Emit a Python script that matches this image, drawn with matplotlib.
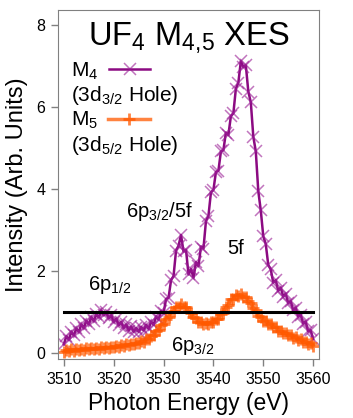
# coding: utf-8
import numpy as np
import matplotlib
matplotlib.use('Agg')
import matplotlib.pyplot as plt
from matplotlib.lines import Line2D

plt.rcParams['font.family'] = ['Liberation Sans', 'DejaVu Sans']
plt.rcParams['mathtext.fontset'] = 'custom'
plt.rcParams['mathtext.rm'] = 'Liberation Sans'
plt.rcParams['mathtext.it'] = 'Liberation Sans:italic'
plt.rcParams['mathtext.default'] = 'rm'

# data
energy = np.arange(3510.0, 3560.01, 0.5)

m4 = [0.22, 0.41, 0.33, 0.52, 0.43, 0.60, 0.52, 0.70, 0.61, 0.79,
      0.70, 0.88, 0.78, 0.95, 0.87, 1.04, 0.92, 1.00, 0.85, 0.92,
      0.76, 0.84, 0.68, 0.76, 0.61, 0.70, 0.55, 0.65, 0.52, 0.61,
      0.52, 0.64, 0.55, 0.69, 0.59, 0.77, 0.69, 0.89, 0.82, 1.03,
      0.98, 1.32, 1.35, 1.78, 1.88, 2.50, 2.62, 2.88, 2.48, 2.52,
      1.92, 2.05, 1.84, 2.22, 2.12, 2.60, 2.55, 3.22, 3.35, 3.92,
      3.98, 4.42, 4.45, 4.92, 4.95, 5.38, 5.32, 5.78, 5.85, 6.45,
      6.60, 7.12, 6.98, 7.02, 6.38, 6.12, 5.28, 4.92, 3.95, 3.48,
      2.85, 2.66, 2.15, 2.04, 1.72, 1.78, 1.52, 1.60, 1.38, 1.45,
      1.22, 1.27, 1.04, 1.11, 0.89, 0.94, 0.72, 0.77, 0.53, 0.56,
      0.34]

m5 = [0.03, 0.08, 0.05, 0.09, 0.06, 0.10, 0.07, 0.11, 0.08, 0.12,
      0.09, 0.12, 0.10, 0.13, 0.11, 0.14, 0.12, 0.15, 0.13, 0.16,
      0.14, 0.18, 0.16, 0.19, 0.17, 0.21, 0.19, 0.23, 0.21, 0.25,
      0.24, 0.29, 0.28, 0.34, 0.35, 0.42, 0.44, 0.53, 0.57, 0.68,
      0.72, 0.84, 0.88, 1.00, 1.03, 1.13, 1.13, 1.19, 1.13, 1.12,
      1.01, 0.98, 0.87, 0.85, 0.76, 0.77, 0.71, 0.74, 0.70, 0.76,
      0.75, 0.83, 0.84, 0.95, 0.99, 1.12, 1.18, 1.31, 1.33, 1.41,
      1.39, 1.43, 1.37, 1.37, 1.27, 1.23, 1.10, 1.04, 0.91, 0.88,
      0.79, 0.79, 0.71, 0.71, 0.63, 0.63, 0.55, 0.55, 0.48, 0.50,
      0.43, 0.45, 0.38, 0.40, 0.33, 0.34, 0.27, 0.28, 0.22, 0.24,
      0.18]

ref_level = 1.0
ref_range = [3510, 3560]

labels = ['6p$_{1/2}$', '6p$_{3/2}$/5f', '5f', '6p$_{3/2}$']
label_x = [3514.8, 3522.4, 3542.7, 3531.5]
label_y = [1.54, 3.32, 2.41, 0.05]

purple = '#8C0A82'

fig = plt.figure(figsize=(3.53, 4.18), dpi=100)
ax = fig.add_axes([0.164, 0.141, 0.740, 0.835])

l4, = ax.plot(energy, m4, color=purple, lw=1.8, marker='x', ms=8, mew=1.1,
              mec=(0.6, 0.1, 0.58, 0.6), zorder=2)
l5, = ax.plot(energy, m5, color=(1.0, 0.35, 0.0, 0.75), lw=2.5, marker='+',
              ms=9, mew=2.0, zorder=2.5)
ax.plot(ref_range, [ref_level, ref_level], color='black', lw=2.2, zorder=3)

for t, x, y in zip(labels, label_x, label_y):
    ax.text(x, y, t, fontsize=14.5, va='baseline', ha='left')

ax.text(0.5, 0.90, 'UF$_4$ M$_{4{,}5}$ XES', transform=ax.transAxes,
        fontsize=23.5, ha='center', va='baseline')

blank = Line2D([], [], linestyle='none')
leg = ax.legend([l4, blank, l5, blank],
                ['M$_4$', '(3d$_{3/2}$ Hole)', 'M$_5$', '(3d$_{5/2}$ Hole)'],
                loc='upper left', bbox_to_anchor=(0.05, 0.855), frameon=False,
                markerfirst=False, numpoints=1, fontsize=15, handlelength=2.0,
                handletextpad=0.5, labelspacing=0.12, borderpad=0,
                borderaxespad=0)
# left-align the entries (text first, handle after)
for col in leg._legend_handle_box.get_children():
    col.align = 'left'

ax.set_xlim(3508.8, 3561.2)
ax.set_ylim(-0.146, 8.37)
ax.set_xticks([3510, 3520, 3530, 3540, 3550, 3560])
ax.set_yticks([0, 2, 4, 6, 8])
ax.set_xlabel('Photon Energy (eV)', fontsize=16.5, labelpad=4)
ax.set_ylabel('Intensity (Arb. Units)', fontsize=17, labelpad=6)
for s in ax.spines.values():
    s.set_color('#808080')
ax.tick_params(direction='out', length=5, width=1, color='#808080',
               labelsize=11.5, pad=4)

plt.savefig('out.png', dpi=100)
plt.close()
